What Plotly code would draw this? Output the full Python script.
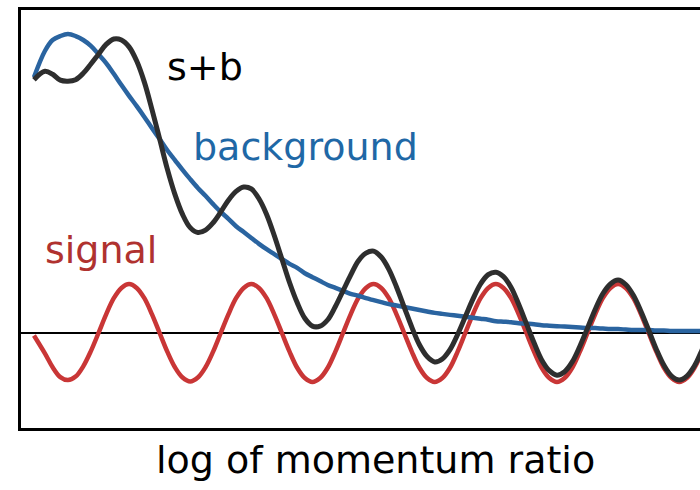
import plotly.graph_objects as go

# x in units of one signal period ("log of momentum ratio", arbitrary units)
x_vals = [-0.028] + [k / 16 for k in range(1, 89)]

# signal values (arbitrary units), one row per period
signal = [-0.05,
          -0.42, -0.70, -0.90, -0.96, -0.89, -0.68, -0.37, 0.00,
          0.38, 0.71, 0.92, 1.00, 0.92, 0.71, 0.38, 0.00,
          -0.38, -0.70, -0.91, -0.99, -0.91, -0.70, -0.38, 0.00,
          0.38, 0.71, 0.92, 1.00, 0.92, 0.71, 0.38, 0.00,
          -0.38, -0.71, -0.92, -1.00, -0.92, -0.71, -0.38, 0.00,
          0.38, 0.71, 0.92, 1.00, 0.92, 0.71, 0.38, 0.00,
          -0.38, -0.71, -0.92, -1.00, -0.92, -0.71, -0.38, 0.00,
          0.38, 0.71, 0.92, 1.00, 0.92, 0.71, 0.38, 0.00,
          -0.38, -0.71, -0.92, -1.00, -0.92, -0.71, -0.38, 0.00,
          0.38, 0.71, 0.92, 1.00, 0.92, 0.71, 0.38, 0.00,
          -0.38, -0.71, -0.92, -1.00, -0.92, -0.71, -0.38, 0.00]

# background values (arbitrary units)
background = [5.22,
              5.76, 5.98, 6.06, 6.10, 6.06, 5.98, 5.86, 5.69,
              5.51, 5.29, 5.06, 4.84, 4.63, 4.41, 4.18, 3.96,
              3.73, 3.53, 3.33, 3.14, 2.96, 2.80, 2.63, 2.47,
              2.33, 2.18, 2.06, 1.94, 1.82, 1.71, 1.61, 1.51,
              1.41, 1.33, 1.22, 1.14, 1.06, 0.98, 0.92, 0.86,
              0.80, 0.76, 0.71, 0.67, 0.63, 0.59, 0.56, 0.53,
              0.50, 0.47, 0.44, 0.41, 0.39, 0.37, 0.35, 0.33,
              0.31, 0.29, 0.27, 0.24, 0.23, 0.22, 0.20, 0.19,
              0.18, 0.16, 0.15, 0.14, 0.13, 0.12, 0.11, 0.10,
              0.10, 0.09, 0.08, 0.08, 0.07, 0.06, 0.06, 0.06,
              0.05, 0.05, 0.04, 0.04, 0.04, 0.04, 0.04, 0.04]

s_plus_b = [s + b for s, b in zip(signal, background)]

RED = "#c93636"
BLUE = "#2a64a0"
BLACK = "#2e2e2e"
FONT = "DejaVu Sans"

fig = go.Figure()
fig.add_trace(go.Scatter(x=x_vals, y=signal, mode="lines",
                         line=dict(color=RED, width=4.5, shape="spline", smoothing=1)))
fig.add_trace(go.Scatter(x=x_vals, y=background, mode="lines",
                         line=dict(color=BLUE, width=4.5, shape="spline", smoothing=1)))
fig.add_trace(go.Scatter(x=x_vals, y=s_plus_b, mode="lines",
                         line=dict(color=BLACK, width=5, shape="spline", smoothing=1)))

# plot area is 679 x 418 px; label centres given as paper fractions
labels = [
    ("s+b", 0.271, 0.864, "#000000"),
    ("background", 0.4197, 0.673, "#1f68a6"),
    ("signal", 0.1178, 0.4266, "#b0322f"),
    ("log of momentum ratio", 0.5214, -0.0758, "#000000"),
]
for text, xp, yp, col in labels:
    fig.add_annotation(text=text, x=xp, y=yp, xref="paper", yref="paper",
                       xanchor="center", yanchor="middle", showarrow=False,
                       font=dict(family=FONT, size=38, color=col))

fig.update_xaxes(range=[-0.134, 5.42], showgrid=False, zeroline=False,
                 showticklabels=False, ticks="", showline=True, linewidth=3,
                 linecolor="black", mirror=True)
fig.update_yaxes(range=[-1.939, 6.592], showgrid=False, zeroline=True,
                 zerolinecolor="black", zerolinewidth=1.5,
                 showticklabels=False, ticks="", showline=True, linewidth=3,
                 linecolor="black", mirror=False)

fig.update_layout(width=700, height=490, showlegend=False,
                  margin=dict(l=21, r=0, t=10, b=62),
                  plot_bgcolor="white", paper_bgcolor="white")

# remove the default page margin and scrollbars so the figure fills the window
fig.write_html("out.html", config={"displayModeBar": False}, post_script=(
    "document.body.style.margin='0';"
    "document.body.style.overflow='hidden';"
    "document.documentElement.style.overflow='hidden';"))
